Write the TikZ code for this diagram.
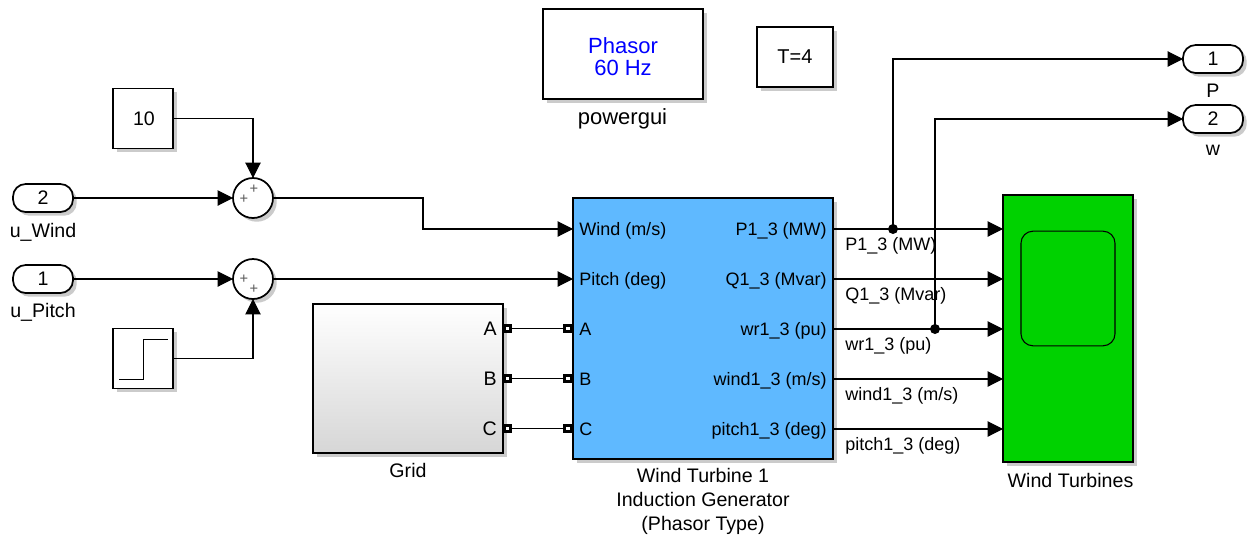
\documentclass[tikz,border=0pt]{standalone}
\usepackage{fontspec}
\setmainfont{Liberation Sans}
\usepackage{tikz}
\usetikzlibrary{arrows.meta,shadows}

\definecolor{turbblue}{HTML}{5FB9FF}
\definecolor{scopegreen}{HTML}{00D200}

\begin{document}
\begin{tikzpicture}[x=0.75pt, y=-0.75pt, >={Triangle[length=11.5pt,width=11.5pt]},
  lbl/.style={font=\fontsize{14.7}{18}\selectfont, inner sep=0pt, align=center},
  sig/.style={font=\fontsize{13.5}{18}\selectfont, inner sep=0pt, anchor=west},
  pin/.style={font=\fontsize{13.5}{18}\selectfont, inner sep=0pt, text height=12pt, text depth=3pt},
  block/.style={draw, line width=1.3pt, fill=white, outer sep=0pt, inner sep=0pt,
    drop shadow={shadow xshift=2.8pt, shadow yshift=-2.8pt, opacity=.45, fill=black!45}},
  capsule/.style={block, rounded corners=9.5pt, minimum width=45pt, minimum height=21pt,
    font=\fontsize{14.7}{18}\selectfont},
  sumcirc/.style={block, circle, minimum size=30pt},
  plus/.style={font=\fontsize{11}{11}\selectfont, text=black!65, inner sep=0pt},
  port/.style={draw, line width=2.3pt, fill=white, minimum size=4.6pt, inner sep=0pt, outer sep=0pt},
  dot/.style={circle, fill=black, minimum size=7.5pt, inner sep=0pt},
  wire/.style={line width=.8pt}]
\useasboundingbox (0,0) rectangle (1254,558);

% ---- solver and annotation ----
\node[block, minimum width=120pt, minimum height=67.5pt] (gui) at (623,54) {};
\node[text=blue, font=\fontsize{16.5}{16.5}\selectfont, align=center, inner sep=0pt] (guitext) at (623,57) {Phasor\\60 Hz};
\node[font=\fontsize{16.5}{18}\selectfont, inner sep=0pt] (guilabel) at (622.5,119) {powergui};
\node[block, minimum width=57pt, minimum height=45pt, font=\fontsize{15}{18}\selectfont] (tnote) at (795,57) {T=4};

% ---- inputs ----
\node[block, minimum width=45pt, minimum height=45pt, font=\fontsize{14.7}{18}\selectfont] (const) at (143,118.5) {\hspace{1.5pt}10};
\node[capsule] (inWind) at (43,198) {2};
\node[lbl] (inWindLabel) at (43,232) {u\_Wind};
\node[capsule] (inPitch) at (43,279) {1};
\node[lbl] (inPitchLabel) at (43,312) {u\_Pitch};
\node[block, minimum width=45pt, minimum height=45pt] (stepblk) at (143,358.5) {};
\draw[line width=.7pt] (119,379) -- (143,379) -- (143,339) -- (168,339);

% sums
\node[sumcirc] (sumWind) at (253,198) {};
\node[plus] (plusWindA) at (254,189.5) {+};
\node[plus] (plusWindB) at (244,199.5) {+};
\node[sumcirc] (sumPitch) at (253,279) {};
\node[plus] (plusPitchA) at (244,279.5) {+};
\node[plus] (plusPitchB) at (254,289.5) {+};

% ---- grid ----
\node[block, top color=white, bottom color=black!16, minimum width=142.5pt, minimum height=111.5pt] (grid) at (408,378.5) {};
\node[lbl] (gridLabel) at (408,470) {Grid};
\node[lbl, anchor=east, text height=13pt, text depth=3pt] (gA) at (497,329) {A};
\node[lbl, anchor=east, text height=13pt, text depth=3pt] (gB) at (497,379) {B};
\node[lbl, anchor=east, text height=13pt, text depth=3pt] (gC) at (497,429) {C};
\node[port] (gpA) at (507.5,328.5) {};
\node[port] (gpB) at (507.5,378.5) {};
\node[port] (gpC) at (507.5,428.5) {};

% ---- turbine ----
\node[block, fill=turbblue, minimum width=195pt, minimum height=196pt] (turbine) at (703,328.5) {};
\node[lbl] (turbineLabel) at (703,501.5) {Wind Turbine 1\\Induction Generator\\(Phasor Type)};
\node[pin, anchor=west] (tWind) at (579,229) {Wind (m/s)};
\node[pin, anchor=west] (tPitch) at (579,279) {Pitch (deg)};
\node[pin, anchor=west] (tA) at (579,329) {A};
\node[pin, anchor=west] (tB) at (579,379) {B};
\node[pin, anchor=west] (tC) at (579,429) {C};
\node[port] (tpA) at (568,328.5) {};
\node[port] (tpB) at (568,378.5) {};
\node[port] (tpC) at (568,428.5) {};
\node[pin, anchor=east] (tP) at (827,229) {P1\_3 (MW)};
\node[pin, anchor=east] (tQ) at (827,279) {Q1\_3 (Mvar)};
\node[pin, anchor=east] (tWr) at (827,329) {wr1\_3 (pu)};
\node[pin, anchor=east] (tWd) at (827,379) {wind1\_3 (m/s)};
\node[pin, anchor=east] (tPh) at (827,429) {pitch1\_3 (deg)};

% ---- scope ----
\node[block, fill=scopegreen, minimum width=97.5pt, minimum height=200pt] (scope) at (1068,328.5) {};
\node[draw, line width=.8pt, rounded corners=9pt, minimum width=70.5pt, minimum height=86pt, inner sep=0pt] (screen) at (1068,288.5) {};
\node[lbl] (scopeLabel) at (1070.5,480.5) {Wind Turbines};

% ---- outputs ----
\node[capsule] (outP) at (1213,59) {1};
\node[lbl] (outPLabel) at (1213,90.5) {P};
\node[capsule] (outW) at (1213,119) {2};
\node[lbl] (outWLabel) at (1213,150.5) {w};

% ---- wires, left side ----
\draw[->, wire] (const.east) -| (sumWind.north);
\draw[->, wire] (inWind) -- (sumWind);
\draw[->, wire] (inPitch) -- (sumPitch);
\draw[->, wire] (stepblk.east) -| (sumPitch.south);
\coordinate (windKnee) at (423,229);
\draw[->, wire] (sumWind.east) -| (windKnee) -- (tWind.west -| turbine.west);
\draw[->, wire] (sumPitch.east) -- (tPitch.west -| turbine.west);

% three phases
\draw[wire] (gpA) -- (tpA);
\draw[wire] (gpB) -- (tpB);
\draw[wire] (gpC) -- (tpC);

% ---- wires, right side ----
\draw[->, wire] (tP.east -| turbine.east) -- (tP.east -| scope.west);
\draw[->, wire] (tQ.east -| turbine.east) -- (tQ.east -| scope.west);
\draw[->, wire] (tWr.east -| turbine.east) -- (tWr.east -| scope.west);
\draw[->, wire] (tWd.east -| turbine.east) -- (tWd.east -| scope.west);
\draw[->, wire] (tPh.east -| turbine.east) -- (tPh.east -| scope.west);

% branches to the outports
\node[dot] (dotP) at (893,229) {};
\node[dot] (dotW) at (935,329) {};
\draw[->, wire] (dotP.center) |- (outP.west);
\draw[->, wire] (dotW.center) |- (outW.west);

% signal names
\node[sig] (sP) at (845,246) {P1\_3 (MW)};
\node[sig] (sQ) at (845,296) {Q1\_3 (Mvar)};
\node[sig] (sWr) at (845,346) {wr1\_3 (pu)};
\node[sig] (sWd) at (845,396) {wind1\_3 (m/s)};
\node[sig] (sPh) at (845,446) {pitch1\_3 (deg)};

\end{tikzpicture}
\end{document}
